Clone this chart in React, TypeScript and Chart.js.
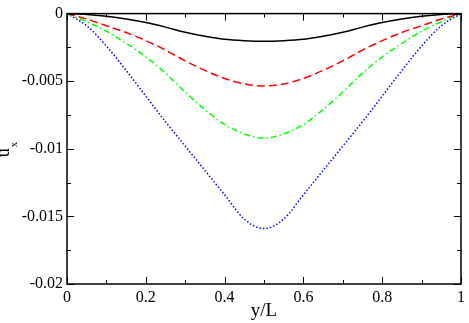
import React, { useEffect, useRef } from "react";
import { Chart, registerables } from "chart.js";

Chart.register(...registerables);

const positions = [0, 0.05, 0.1, 0.15, 0.2, 0.25, 0.3, 0.35, 0.4, 0.45, 0.5, 0.55, 0.6, 0.65, 0.7, 0.75, 0.8, 0.85, 0.9, 0.95, 1];
const seriesBlack = [0, -0.00006, -0.0002, -0.0004, -0.00066, -0.001, -0.00138, -0.00168, -0.0019, -0.002, -0.00204, -0.002, -0.0019, -0.00168, -0.00138, -0.001, -0.00066, -0.0004, -0.0002, -0.00006, 0];
const seriesRed = [0, -0.0004, -0.0009, -0.0014, -0.002, -0.0027, -0.0035, -0.0042, -0.0048, -0.0052, -0.00535, -0.0052, -0.0048, -0.0042, -0.0035, -0.0027, -0.002, -0.0014, -0.0009, -0.0004, 0];
const seriesGreen = [0, -0.0006, -0.0013, -0.0022, -0.0032, -0.0044, -0.0058, -0.0071, -0.0082, -0.0089, -0.0092, -0.0089, -0.0082, -0.0071, -0.0058, -0.0044, -0.0032, -0.0022, -0.0013, -0.0006, 0];
const seriesBlue = [0, -0.0009, -0.0024, -0.0042, -0.0061, -0.008, -0.0098, -0.0116, -0.0134, -0.0152, -0.0159, -0.0152, -0.0134, -0.0116, -0.0098, -0.008, -0.0061, -0.0042, -0.0024, -0.0009, 0];
const xMajorTicks = [0, 0.2, 0.4, 0.6, 0.8, 1];
const xMinorTicks = [0.1, 0.3, 0.5, 0.7, 0.9];
const yMajorTicks = [0, -0.005, -0.01, -0.015, -0.02];
const yMinorTicks = [-0.0025, -0.0075, -0.0125, -0.0175];

const SERIF = "'Liberation Serif', 'Times New Roman', Times, serif";

Chart.defaults.font.family = SERIF;
Chart.defaults.color = "#000";

const toPoints = (vals: number[]) => vals.map((v, i) => ({ x: positions[i], y: v }));
const fmt = (v: number) => String(Number(Number(v).toFixed(6)));

const framePlugin = {
  id: "frame",
  afterDraw(chart: any) {
    const { ctx, chartArea: a, scales } = chart;
    const xs = scales.x;
    const ys = scales.y;
    ctx.save();
    ctx.strokeStyle = "#000";
    ctx.lineWidth = 1.5;
    ctx.strokeRect(a.left, a.top, a.right - a.left, a.bottom - a.top);
    ctx.lineWidth = 1;
    const major = 7;
    const minor = 4;
    ctx.beginPath();
    const xt = (vals: number[], len: number) => {
      vals.forEach((v) => {
        const px = Math.round(xs.getPixelForValue(v)) + 0.5;
        ctx.moveTo(px, a.bottom);
        ctx.lineTo(px, a.bottom - len);
        ctx.moveTo(px, a.top);
        ctx.lineTo(px, a.top + len);
      });
    };
    const yt = (vals: number[], len: number) => {
      vals.forEach((v) => {
        const py = Math.round(ys.getPixelForValue(v)) + 0.5;
        ctx.moveTo(a.left, py);
        ctx.lineTo(a.left + len, py);
        ctx.moveTo(a.right, py);
        ctx.lineTo(a.right - len, py);
      });
    };
    xt(xMajorTicks, major);
    xt(xMinorTicks, minor);
    yt(yMajorTicks, major);
    yt(yMinorTicks, minor);
    ctx.stroke();

    // y-axis title u_x (rotated)
    const cy = (a.top + a.bottom) / 2;
    ctx.translate(8.5, cy + 4);
    ctx.rotate(-Math.PI / 2);
    ctx.fillStyle = "#000";
    ctx.textBaseline = "alphabetic";
    ctx.textAlign = "left";
    ctx.font = "18px " + SERIF;
    const uw = ctx.measureText("u").width;
    ctx.fillText("u", -uw / 2, 0);
    ctx.font = "11px " + SERIF;
    ctx.fillText("x", uw / 2 + 1, 8);
    ctx.restore();
  },
};

export default function App() {
  const ref = useRef<HTMLCanvasElement | null>(null);
  useEffect(() => {
    if (!ref.current) return;
    const common = { pointRadius: 0, borderWidth: 1.5, fill: false, cubicInterpolationMode: "monotone" as const };
    const chart = new Chart(ref.current, {
      type: "line",
      data: {
        datasets: [
          { ...common, label: "a", data: toPoints(seriesBlack), borderColor: "#000000" },
          { ...common, label: "b", data: toPoints(seriesRed), borderColor: "#ff0000", borderDash: [8, 4] },
          { ...common, label: "c", data: toPoints(seriesGreen), borderColor: "#00ff00", borderDash: [6, 3, 1.5, 3] },
          { ...common, label: "d", data: toPoints(seriesBlue), borderColor: "#0000ff", borderDash: [1.5, 2] },
        ],
      },
      options: {
        animation: false,
        responsive: false,
        layout: { padding: { top: 6, right: 4, left: 0, bottom: 0 } },
        plugins: { legend: { display: false }, tooltip: { enabled: false } },
        scales: {
          x: {
            type: "linear",
            min: 0,
            max: 1,
            grid: { display: false, drawTicks: false },
            border: { display: false },
            afterBuildTicks: (s: any) => { s.ticks = xMajorTicks.map((v) => ({ value: v })); },
            afterFit: (s: any) => { s.height = 39; },
            ticks: {
              color: "#000",
              padding: 4,
              maxRotation: 0,
              autoSkip: false,
              font: { family: SERIF, size: 16 },
              callback: (v: any) => fmt(v),
            },
            title: {
              display: true,
              text: "y/L",
              color: "#000",
              font: { family: SERIF, size: 19 },
              padding: { top: 0, bottom: 1 },
            },
          },
          y: {
            type: "linear",
            min: -0.02,
            max: 0,
            grid: { display: false, drawTicks: false },
            border: { display: false },
            afterBuildTicks: (s: any) => { s.ticks = yMajorTicks.map((v) => ({ value: v })); },
            afterFit: (s: any) => { s.width = 67; },
            ticks: {
              color: "#000",
              padding: 4,
              autoSkip: false,
              font: { family: SERIF, size: 16 },
              callback: (v: any) => fmt(v),
            },
          },
        },
      },
      plugins: [framePlugin],
    });
    return () => chart.destroy();
  }, []);
  return (
    <div style={{ position: "fixed", left: 0, top: 0, width: 469, height: 323, background: "#fff" }}>
      <canvas ref={ref} width={469} height={323} style={{ display: "block" }} />
    </div>
  );
}
